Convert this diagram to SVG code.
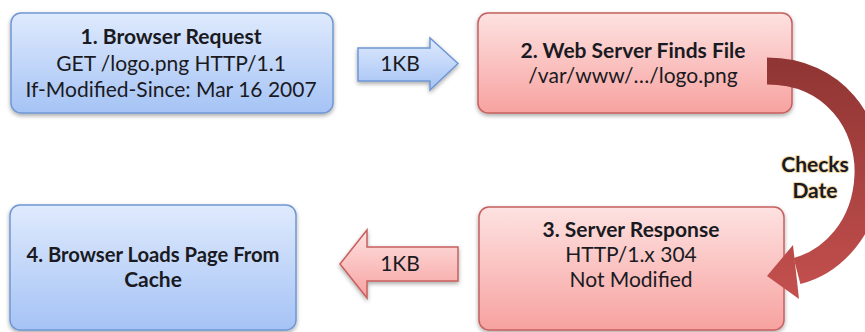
<svg xmlns="http://www.w3.org/2000/svg" width="865" height="332" viewBox="0 0 865 332">
  <defs>
    <linearGradient id="blueFill" x1="0" y1="0" x2="0" y2="1">
      <stop offset="0" stop-color="#dfeafd"/>
      <stop offset="1" stop-color="#a5c3f5"/>
    </linearGradient>
    <linearGradient id="redFill" x1="0" y1="0" x2="0" y2="1">
      <stop offset="0" stop-color="#fde2e1"/>
      <stop offset="1" stop-color="#f7a2a0"/>
    </linearGradient>
    <linearGradient id="curveFill" gradientUnits="userSpaceOnUse" x1="0" y1="58" x2="0" y2="300">
      <stop offset="0" stop-color="#8f3533"/>
      <stop offset="1" stop-color="#c4504e"/>
    </linearGradient>
    <filter id="shadow" x="-10%" y="-10%" width="120%" height="130%">
      <feDropShadow dx="0" dy="2" stdDeviation="2" flood-color="#000" flood-opacity="0.35"/>
    </filter>
  </defs>
  <style>
    .blue { fill: url(#blueFill); stroke: #6f97d2; stroke-width: 1.5; filter: url(#shadow); }
    .red { fill: url(#redFill); stroke: #c6605e; stroke-width: 1.5; filter: url(#shadow); }
    text { font-family: Lato, "Liberation Sans", sans-serif; font-size: 21px; fill: #1a1a22; text-anchor: middle; }
    .b { font-weight: bold; }
    .glow { font-weight: bold; stroke: #f3d9a8; stroke-width: 2px; paint-order: stroke; stroke-linejoin: round; }
  </style>

  <!-- nodes -->
  <g id="browser-request">
    <rect class="blue" x="11" y="13" width="322" height="100" rx="10"/>
    <text class="b" x="171" y="44">1. Browser Request</text>
    <text x="171" y="71">GET /logo.png HTTP/1.1</text>
    <text x="171" y="97">If-Modified-Since: Mar 16 2007</text>
  </g>
  <g id="server-finds-file">
    <rect class="red" x="478" y="13" width="314" height="100" rx="10"/>
    <text class="b" x="633" y="58">2. Web Server Finds File</text>
    <text x="633" y="83">/var/www/…/logo.png</text>
  </g>
  <g id="server-response">
    <rect class="red" x="479" y="207" width="305" height="123" rx="10"/>
    <text class="b" x="631" y="237">3. Server Response</text>
    <text x="631" y="262">HTTP/1.x 304</text>
    <text x="631" y="287">Not Modified</text>
  </g>
  <g id="browser-cache">
    <rect class="blue" x="10" y="205" width="286" height="125" rx="10"/>
    <text class="b" x="153" y="262" textLength="253" lengthAdjust="spacingAndGlyphs">4. Browser Loads Page From</text>
    <text class="b" x="153" y="287">Cache</text>
  </g>

  <!-- connectors -->
  <g id="connectors">
    <g id="request-arrow">
      <path class="blue" d="M358 48 H430 V38 L458 63.5 L430 90 V81 H358 Z"/>
      <text x="400" y="71">1KB</text>
    </g>
    <g id="check-date-arrow">
      <path d="M767 71 C835 71 870 125 868 175 C866 228 832 262 797 271" fill="none" stroke="url(#curveFill)" stroke-width="27"/>
      <polygon points="767,276 793,245 799,299" fill="url(#curveFill)"/>
      <text class="glow" x="815" y="172">Checks</text>
      <text class="glow" x="815" y="198">Date</text>
    </g>
    <g id="response-arrow">
      <path class="red" d="M458 247 H367 V230 L340 264 L367 298 V281 H458 Z"/>
      <text x="400" y="271">1KB</text>
    </g>
  </g>
</svg>
